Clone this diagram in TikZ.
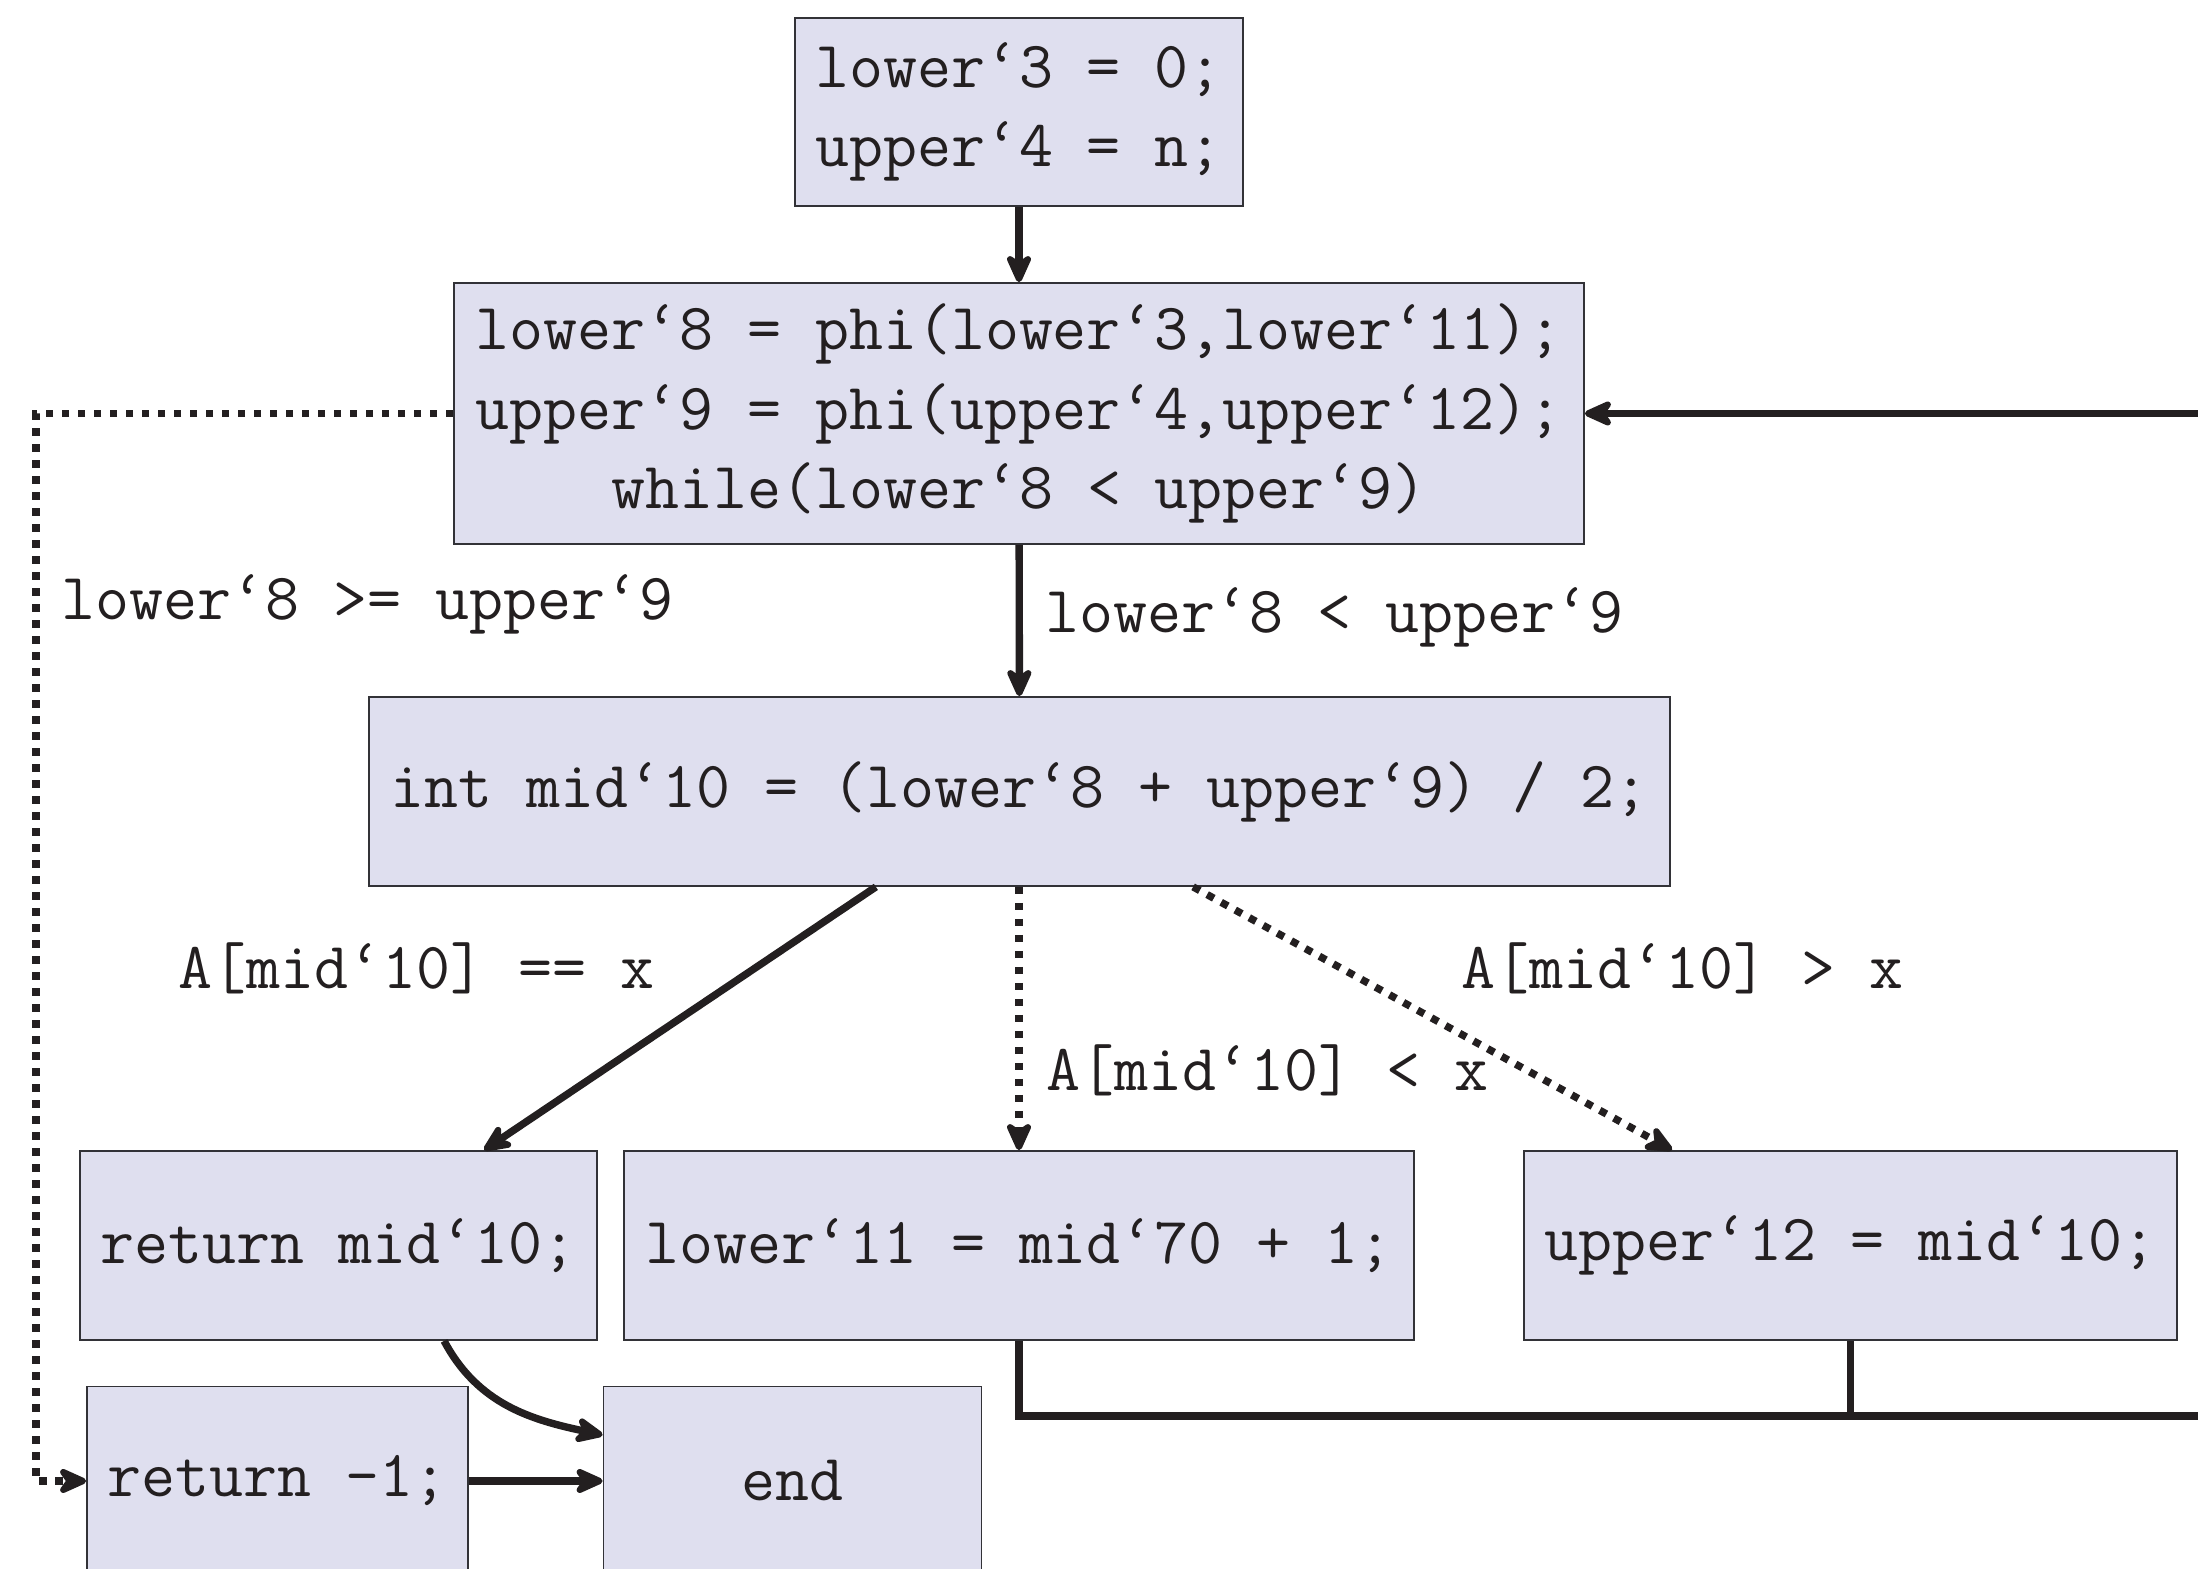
\documentclass[tikz,border=0pt]{standalone}
\usepackage{fontspec}
\setmonofont{Latin Modern Mono}
\usetikzlibrary{arrows.meta}
\definecolor{boxfill}{RGB}{223,223,239}
\definecolor{boxline}{RGB}{50,50,55}
\definecolor{ink}{RGB}{35,31,32}
\tikzset{
  codefont/.style={font=\ttfamily\fontsize{16.5}{19.9}\selectfont},
  blk/.style={draw=boxline, fill=boxfill, line width=0.45pt, inner sep=0pt,
    align=center, codefont, text=ink},
  lbl/.style={inner sep=0pt, anchor=west, codefont, text=ink},
  flow/.style={draw=ink, line width=1.85pt, -{Stealth[length=9pt,width=8pt,inset=2.8pt,round]}},
  wire/.style={draw=ink, line width=1.85pt},
  dotflow/.style={flow, dash pattern=on 1.9pt off 2.1pt},
}
\begin{document}
\begin{tikzpicture}[x=0.25pt, y=-0.25pt]
\path[use as bounding box] (0,0) rectangle (2198,1569);
\clip (0,0) rectangle (2198,1569);

% basic blocks
\node[blk, minimum width=112pt, minimum height=47pt] (b1) at (1019,112)
  {lower‘3 = 0;\\upper‘4 = n;};
\node[blk, minimum width=282.5pt, minimum height=65.25pt] (b2) at (1019,413.5)
  {lower‘8 = phi(lower‘3,lower‘11);\\upper‘9 = phi(upper‘4,upper‘12);\\while(lower‘8 < upper‘9)};
\node[blk, minimum width=325.25pt, minimum height=47.25pt] (b3) at (1019.5,791.5)
  {int mid‘10 = (lower‘8 + upper‘9) / 2;};
\node[blk, minimum width=129.25pt, minimum height=47.25pt] (b4) at (338.5,1245.5)
  {return mid‘10;};
\node[blk, minimum width=197.5pt, minimum height=47.25pt] (b5) at (1019,1245.5)
  {lower‘11 = mid‘70 + 1;};
\node[blk, minimum width=163.25pt, minimum height=47.25pt] (b6) at (1850.5,1245.5)
  {upper‘12 = mid‘10;};
\node[blk, minimum width=95.25pt, minimum height=47.25pt] (b7) at (277.5,1481)
  {return -1;};
\node[blk, minimum width=94.5pt, minimum height=47.25pt] (b8) at (792.5,1481)
  {end};

% branch conditions
\node[lbl] (c1) at (1045,617) {lower‘8 < upper‘9};
\node[lbl] (c2) at (61,604) {lower‘8 >= upper‘9};
\node[lbl] (c3) at (178,968) {A[mid‘10] == x};
\node[lbl] (c4) at (1046,1070) {A[mid‘10] < x};
\node[lbl] (c5) at (1461,968) {A[mid‘10] > x};

% routing points
\coordinate (lc) at (36,413.5);
\coordinate (rc) at (2300,1416);

% edges
\draw[flow] (b1) -- (b2);
\draw[flow] (b2) -- (b3);
\draw[flow] ([xshift=-35.9pt]b3.south) -- ([xshift=36.4pt]b4.north);
\draw[dotflow] (b3.south -| b5.north) -- (b5.north);
\draw[dotflow] ([xshift=43.4pt]b3.south) -- ([xshift=-44.6pt]b6.north);
\draw[dotflow] (b2.west) -- (lc) |- (b7.west);
\draw[flow] ([xshift=26.4pt]b4.south) to[out=-62,in=168] ([yshift=11.5pt]b8.west);
\draw[flow] (b7) -- (b8);
\draw[wire] (b5.south) |- (rc);
\draw[wire] (b6.south) -- (b6.south |- rc);
\draw[flow] (rc) |- (b2.east);
\end{tikzpicture}
\end{document}
